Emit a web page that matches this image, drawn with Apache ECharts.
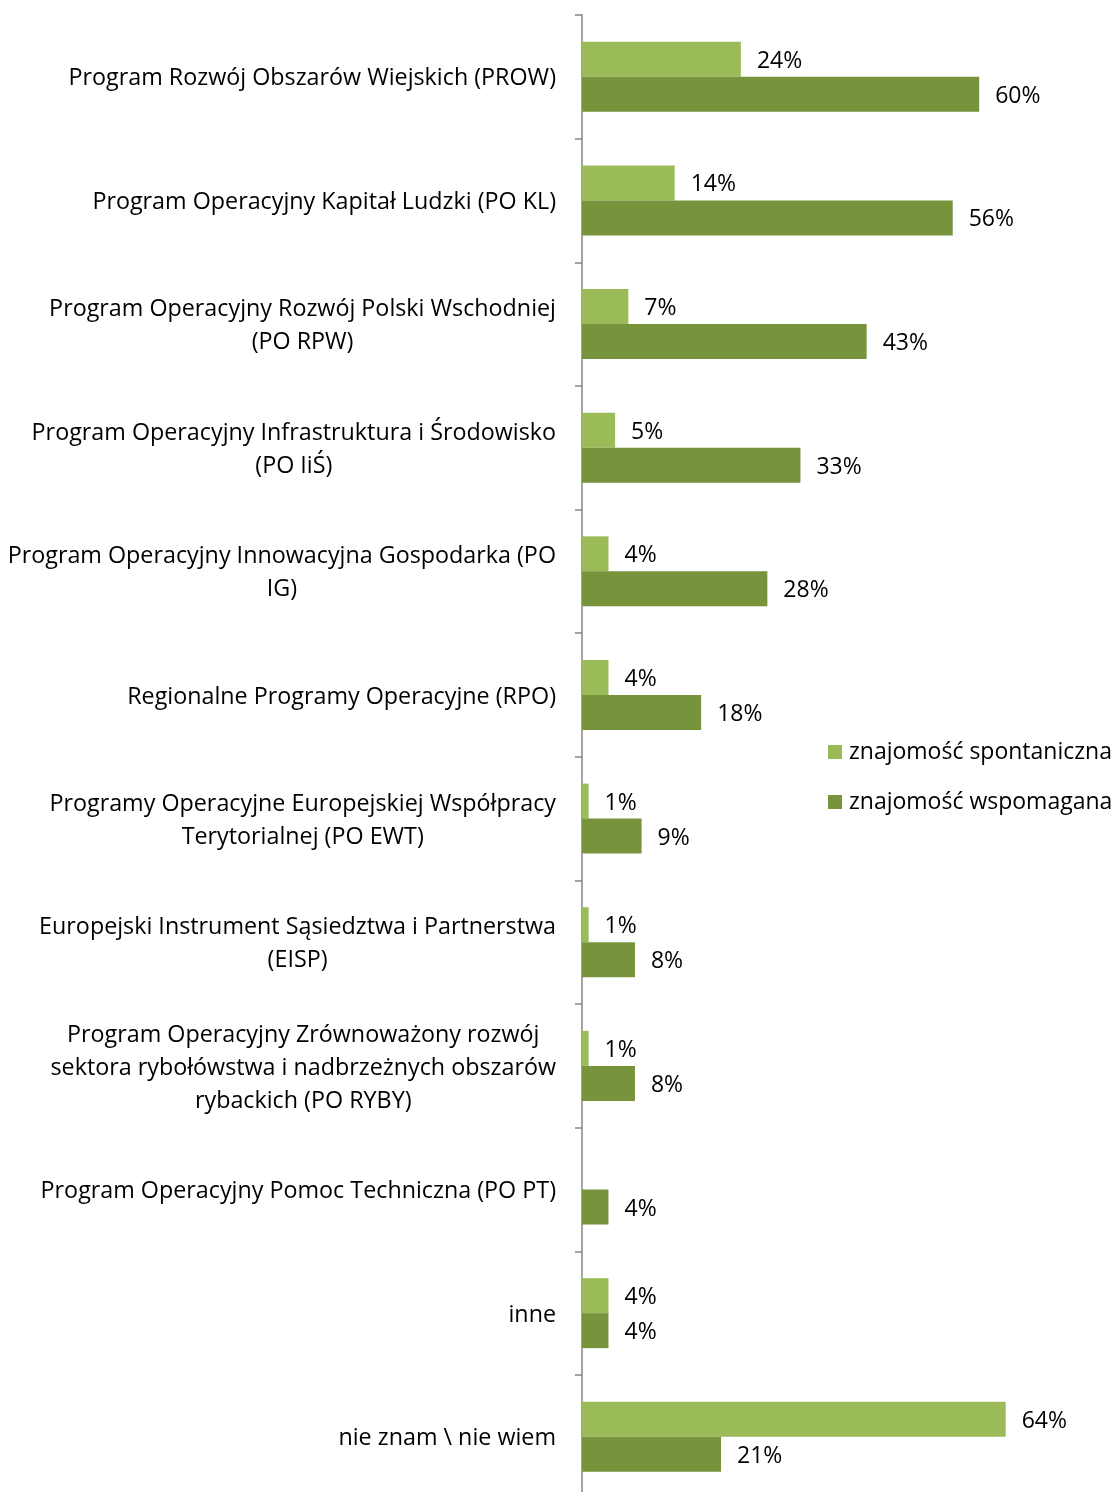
<!DOCTYPE html>
<html><head><meta charset="utf-8">
<script src="https://cdn.jsdelivr.net/npm/echarts@6/dist/echarts.min.js"></script>
<style>html,body{margin:0;padding:0;background:#fff;overflow:hidden}#c{width:1116px;height:1500px}</style>
</head><body><div id="c"></div>
<script>
const categories = [
  "Program Rozwój Obszarów Wiejskich (PROW)",
  "Program Operacyjny Kapitał Ludzki (PO KL)",
  "Program Operacyjny Rozwój Polski Wschodniej\n(PO RPW)",
  "Program Operacyjny Infrastruktura i Środowisko\n(PO IiŚ)",
  "Program Operacyjny Innowacyjna Gospodarka (PO\nIG)",
  "Regionalne Programy Operacyjne (RPO)",
  "Programy Operacyjne Europejskiej Współpracy\nTerytorialnej (PO EWT)",
  "Europejski Instrument Sąsiedztwa i Partnerstwa\n(EISP)",
  "Program Operacyjny Zrównoważony rozwój\nsektora rybołówstwa i nadbrzeżnych obszarów\nrybackich (PO RYBY)",
  "Program Operacyjny Pomoc Techniczna (PO PT)",
  "inne",
  "nie znam \\ nie wiem"
];
const seriesNames = ["znajomość spontaniczna", "znajomość wspomagana"];
const spontaneous = [24, 14, 7, 5, 4, 4, 1, 1, 1, null, 4, 64];
const assisted = [60, 56, 43, 33, 28, 18, 9, 8, 8, 4, 4, 21];

const FONT = 'Open Sans';
const FS_AX = 23.3;
const FS = 23;
const chart = echarts.init(document.getElementById('c'), null, {renderer: 'canvas'});
const labelCfg = {
  show: true, position: 'right', distance: 16, offset: [0, 2],
  formatter: p => p.value == null ? '' : p.value + '%',
  color: '#000', fontFamily: FONT, fontSize: FS
};
chart.setOption({
  animation: false,
  textStyle: {fontFamily: FONT},
  grid: {left: 582, top: 15, height: 1483.6, width: 529.6, containLabel: false, outerBoundsMode: 'none'},
  xAxis: {type: 'value', min: 0, max: 80, show: false},
  yAxis: {
    type: 'category', inverse: true, data: categories,
    axisLine: {show: true, lineStyle: {color: '#868686', width: 1.5}},
    axisTick: {show: true, length: 7, lineStyle: {color: '#868686', width: 1.5}},
    axisLabel: {
      margin: 26, fontFamily: FONT, fontSize: FS_AX, color: '#000', padding: [4, 0, 0, 0],
      formatter: v => v.split('\n').map(s => '{c|' + s + '}').join('\n'),
      rich: {c: {align: 'center', fontFamily: FONT, fontSize: FS_AX, color: '#000', lineHeight: 33}}
    }
  },
  legend: {
    orient: 'vertical', left: 828, top: 739, itemWidth: 14, itemHeight: 14, itemGap: 24,
    icon: 'rect', padding: 0,
    textStyle: {fontFamily: FONT, fontSize: FS, color: '#000', lineHeight: 26, padding: [0, 0, 0, 2]},
    data: seriesNames
  },
  series: [
    {name: seriesNames[0], type: 'bar', data: spontaneous, barWidth: 35, barGap: '0%',
     itemStyle: {color: '#9BBB59'}, label: labelCfg},
    {name: seriesNames[1], type: 'bar', data: assisted, barWidth: 35, barGap: '0%',
     itemStyle: {color: '#77933C'}, label: labelCfg}
  ]
});
</script></body></html>
